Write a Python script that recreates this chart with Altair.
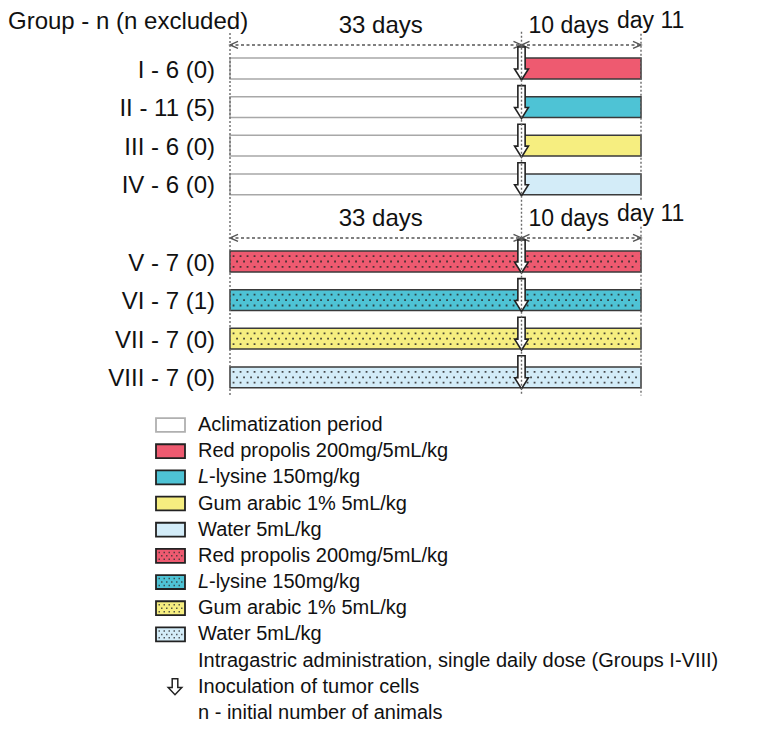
import altair as alt
import pandas as pd

# ---------------- data ----------------
GROUPS = ["I", "II", "III", "IV", "V", "VI", "VII", "VIII"]
N_INITIAL = [6, 11, 6, 6, 7, 7, 7, 7]
N_EXCLUDED = [0, 5, 0, 0, 0, 1, 0, 0]
PRETREATED = [False, False, False, False, True, True, True, True]
TREATMENTS = ["Red propolis 200mg/5mL/kg", "L-lysine 150mg/kg",
              "Gum arabic 1% 5mL/kg", "Water 5mL/kg"]
TREAT_COLORS = ["#EE5A70", "#4EC3D5", "#F6EE80", "#D3ECF8"]
ACCLIM_DAYS = 33
POST_DAYS = 10
PHASE_LABELS = ["33 days", "10 days", "day 11"]
LEGEND_NOTES = ["Intragastric administration, single daily dose (Groups I-VIII)",
                "Inoculation of tumor cells",
                "n - initial number of animals"]

END_DAY = ACCLIM_DAYS + POST_DAYS
FONT = "Liberation Sans, Arial, Helvetica, sans-serif"
W, H = 760, 714

# timeline scale (diagram is not to scale: piecewise linear)
XS = alt.Scale(domain=[0, ACCLIM_DAYS, END_DAY], range=[222, 513.5, 633], nice=False, zero=False)
UNIT = 38.6
Y0 = -60.5 / UNIT
YS = alt.Scale(domain=[Y0, Y0 + H / UNIT], range=[0, H], nice=False, zero=False)
PX = (513.5 - 222) / ACCLIM_DAYS  # px per day on left segment


def d(px):  # pixel offset from day 0 -> day units (layout helper)
    return px / PX


def X(f):
    return alt.X(f, type="quantitative", scale=XS, axis=None)


def Y(f):
    return alt.Y(f, type="quantitative", scale=YS, axis=None)


slots = [i if i < 4 else i + 1 for i in range(len(GROUPS))]

# ---------------- bars ----------------
bar_rows = []
for i, g in enumerate(GROUPS):
    c = TREAT_COLORS[i % 4]
    s = slots[i]
    if PRETREATED[i]:
        bar_rows.append(dict(g=g, x0=0, x1=ACCLIM_DAYS, y0=s - 0.27, y1=s + 0.27, fill=c, stroke="#3a3a3a"))
    else:
        bar_rows.append(dict(g=g, x0=0, x1=ACCLIM_DAYS, y0=s - 0.27, y1=s + 0.27, fill="#ffffff", stroke="#a8a8a8"))
    bar_rows.append(dict(g=g, x0=ACCLIM_DAYS, x1=END_DAY, y0=s - 0.27, y1=s + 0.27, fill=c, stroke="#3a3a3a"))
bars_df = pd.DataFrame(bar_rows)

bars = alt.Chart(bars_df).mark_rect(strokeWidth=1.5).encode(
    x=X("x0"), x2="x1", y=Y("y0"), y2="y1",
    fill=alt.Fill("fill:N", scale=None), stroke=alt.Stroke("stroke:N", scale=None))

# dotted texture on pretreated bars
dotA, dotB = [], []
for i, g in enumerate(GROUPS):
    if PRETREATED[i]:
        s = slots[i]
        for off in (-0.14, 0.14):
            dotA.append(dict(x0=0.3, x1=END_DAY - 0.2, y=s + off))
        dotB.append(dict(x0=0.3, x1=END_DAY - 0.2, y=s))
dotsA = alt.Chart(pd.DataFrame(dotA)).mark_rule(
    strokeDash=[1.8, 5.2], strokeWidth=1.8, color="#2a2a2a", opacity=0.85).encode(
    x=X("x0"), x2="x1", y=Y("y"))
dotsB = alt.Chart(pd.DataFrame(dotB)).mark_rule(
    strokeDash=[1.8, 5.2], strokeDashOffset=3.5, strokeWidth=1.8, color="#2a2a2a", opacity=0.85).encode(
    x=X("x0"), x2="x1", y=Y("y"))

# inoculation arrows
ARROW = "M-0.22,-1L0.22,-1L0.22,0.33L0.42,0.33L0,1L-0.42,0.33L-0.22,0.33Z"
inoc_df = pd.DataFrame(dict(x=[ACCLIM_DAYS] * len(GROUPS), y=slots))
inoc = alt.Chart(inoc_df).mark_point(
    shape=ARROW, size=33 ** 2, filled=True, fill="white", stroke="#222222",
    strokeWidth=1.6, opacity=1, yOffset=-5).encode(x=X("x"), y=Y("y"))

# vertical dotted guide lines
vl_df = pd.DataFrame([
    dict(x=0, y0=-0.92, y1=8.47),
    dict(x=ACCLIM_DAYS, y0=-0.95, y1=8.47),
    dict(x=END_DAY, y0=-0.9, y1=3.42),
    dict(x=END_DAY, y0=4.1, y1=8.47),
])
vlines = alt.Chart(vl_df).mark_rule(strokeDash=[2, 2], strokeWidth=1.4, color="#6a6a6a").encode(
    x=X("x"), y=Y("y0"), y2="y1")

# horizontal duration arrows
sections = [0, 5]
h_rows = []
for base in sections:
    h_rows.append(dict(x0=0, x1=ACCLIM_DAYS, y=base - 0.61))
    h_rows.append(dict(x0=ACCLIM_DAYS, x1=END_DAY, y=base - 0.61))
h_df = pd.DataFrame(h_rows)
hlines = alt.Chart(h_df).mark_rule(strokeDash=[3, 2.5], strokeWidth=1.4, color="#555555").encode(
    x=X("x0"), x2="x1", y=Y("y"))
left_heads = alt.Chart(h_df).mark_point(
    shape="M2,-0.875L0,0L2,0.875", size=64, filled=False, stroke="#555555", strokeWidth=1.4, opacity=1
).encode(x=X("x0"), y=Y("y"))
right_heads = alt.Chart(h_df).mark_point(
    shape="M-2,-0.875L0,0L-2,0.875", size=64, filled=False, stroke="#555555", strokeWidth=1.4, opacity=1
).encode(x=X("x1"), y=Y("y"))

# ---------------- texts ----------------
title_df = pd.DataFrame(dict(x=[d(-222)], y=[-1.02], t=["Group - n (n excluded)"]))
title = alt.Chart(title_df).mark_text(font=FONT, fontSize=24, align="left", baseline="alphabetic",
                                      color="#111111").encode(x=X("x"), y=Y("y"), text="t:N")

lab_df = pd.DataFrame(dict(
    x=[0] * len(GROUPS), y=slots,
    t=[f"{g} - {n} ({e})" for g, n, e in zip(GROUPS, N_INITIAL, N_EXCLUDED)]))
labels = alt.Chart(lab_df).mark_text(font=FONT, fontSize=24, align="right", baseline="middle",
                                     dx=-15, dy=2, color="#111111").encode(x=X("x"), y=Y("y"), text="t:N")

hd33 = pd.DataFrame(dict(x=[ACCLIM_DAYS / 2] * 2, y=[b - 0.92 for b in sections], t=[PHASE_LABELS[0]] * 2))
hd10 = pd.DataFrame(dict(x=[ACCLIM_DAYS] * 2, y=[b - 0.92 for b in sections], t=[PHASE_LABELS[1]] * 2))
hd11 = pd.DataFrame(dict(x=[END_DAY] * 2, y=[b - 1.06 for b in sections], t=[PHASE_LABELS[2]] * 2))
t33 = alt.Chart(hd33).mark_text(font=FONT, fontSize=24, align="center", baseline="alphabetic", dx=5,
                                color="#111111").encode(x=X("x"), y=Y("y"), text="t:N")
t10 = alt.Chart(hd10).mark_text(font=FONT, fontSize=23, align="left", baseline="alphabetic", dx=7,
                                color="#111111").encode(x=X("x"), y=Y("y"), text="t:N")
t11 = alt.Chart(hd11).mark_text(font=FONT, fontSize=23, align="left", baseline="alphabetic", dx=-24,
                                color="#111111").encode(x=X("x"), y=Y("y"), text="t:N")

# ---------------- legend ----------------
LEG0, LEGSTEP = 9.236, 0.678
leg_labels = ["Aclimatization period"] + TREATMENTS + TREATMENTS
box_rows, ldotA, ldotB = [], [], []
BX0, BX1 = d(-74), d(-45)
for i, lab in enumerate(leg_labels):
    yy = LEG0 + i * LEGSTEP
    if i == 0:
        fill, stroke = "#ffffff", "#b0b0b0"
    else:
        fill, stroke = TREAT_COLORS[(i - 1) % 4], "#222222"
    box_rows.append(dict(x0=BX0, x1=BX1, y0=yy - 0.18, y1=yy + 0.18, fill=fill, stroke=stroke))
    if i >= 5:
        for off in (-0.09, 0.09):
            ldotA.append(dict(x0=BX0 + d(2.5), x1=BX1 - d(1.5), y=yy + off))
        ldotB.append(dict(x0=BX0 + d(2.5), x1=BX1 - d(1.5), y=yy))
leg_boxes = alt.Chart(pd.DataFrame(box_rows)).mark_rect(strokeWidth=1.8).encode(
    x=X("x0"), x2="x1", y=Y("y0"), y2="y1",
    fill=alt.Fill("fill:N", scale=None), stroke=alt.Stroke("stroke:N", scale=None))
leg_dotsA = alt.Chart(pd.DataFrame(ldotA)).mark_rule(
    strokeDash=[1.5, 3.5], strokeWidth=1.5, color="#333333", opacity=0.8).encode(
    x=X("x0"), x2="x1", y=Y("y"))
leg_dotsB = alt.Chart(pd.DataFrame(ldotB)).mark_rule(
    strokeDash=[1.5, 3.5], strokeDashOffset=2.5, strokeWidth=1.5, color="#333333", opacity=0.8).encode(
    x=X("x0"), x2="x1", y=Y("y"))

all_leg = leg_labels + LEGEND_NOTES
TX = d(-32)
plain, lys = [], []
for i, lab in enumerate(all_leg):
    yy = LEG0 + i * LEGSTEP
    if lab.startswith("L-"):
        lys.append(dict(x=TX, y=yy, t=lab[1:], p="L"))
    else:
        plain.append(dict(x=TX, y=yy, t=lab))
leg_text = alt.Chart(pd.DataFrame(plain)).mark_text(
    font=FONT, fontSize=20, align="left", baseline="middle", color="#111111").encode(
    x=X("x"), y=Y("y"), text="t:N")
lys_df = pd.DataFrame(lys)
leg_L = alt.Chart(lys_df).mark_text(
    font=FONT, fontSize=20, fontStyle="italic", align="left", baseline="middle", color="#111111").encode(
    x=X("x"), y=Y("y"), text="p:N")
leg_lys = alt.Chart(lys_df).mark_text(
    font=FONT, fontSize=20, align="left", baseline="middle", dx=11, color="#111111").encode(
    x=X("x"), y=Y("y"), text="t:N")

leg_arrow_df = pd.DataFrame(dict(x=[d(-55)], y=[LEG0 + 10 * LEGSTEP]))
leg_arrow = alt.Chart(leg_arrow_df).mark_point(
    shape="M-0.35,-1L0.35,-1L0.35,0.1L0.85,0.1L0,1L-0.85,0.1L-0.35,0.1Z", size=256,
    filled=True, fill="white", stroke="#222222", strokeWidth=1.5, opacity=1).encode(x=X("x"), y=Y("y"))

chart = alt.layer(
    bars, dotsA, dotsB, hlines, left_heads, right_heads, inoc, vlines,
    title, labels, t33, t10, t11,
    leg_boxes, leg_dotsA, leg_dotsB, leg_text, leg_L, leg_lys, leg_arrow,
).properties(width=W, height=H, autosize="none", padding=0, background="white"
).configure_view(stroke=None)

chart.save("out.html", embed_options={"renderer": "svg", "actions": False})
